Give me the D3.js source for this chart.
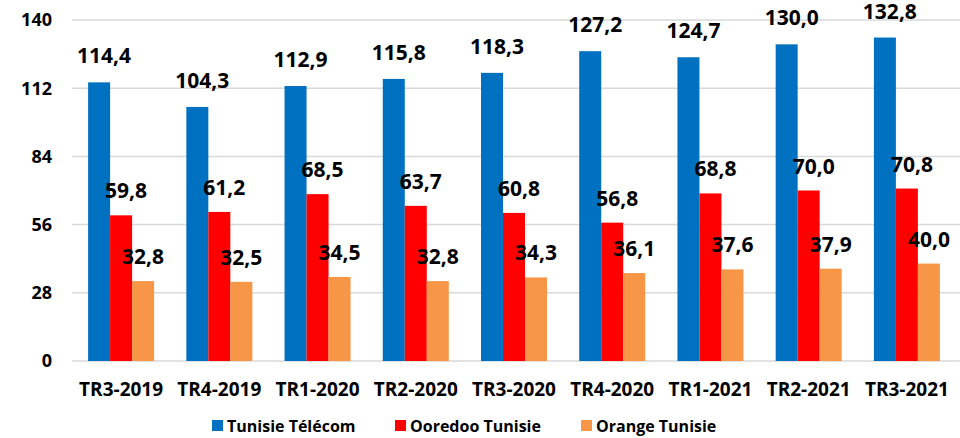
<!DOCTYPE html>
<html><head><meta charset="utf-8">
<script src="https://cdn.jsdelivr.net/npm/d3@7"></script>
<style>body{margin:0;background:#fff}svg{display:block}text{font-family:"Open Sans",sans-serif;font-weight:700;fill:#000}</style>
</head><body><svg id="c" width="960" height="438"></svg>
<script>
const categories = ["TR3-2019","TR4-2019","TR1-2020","TR2-2020","TR3-2020","TR4-2020","TR1-2021","TR2-2021","TR3-2021"];
const seriesNames = ["Tunisie Télécom","Ooredoo Tunisie","Orange Tunisie"];
const tunisieTelecom = [114.4,104.3,112.9,115.8,118.3,127.2,124.7,130.0,132.8];
const ooredoo = [59.8,61.2,68.5,63.7,60.8,56.8,68.8,70.0,70.8];
const orange = [32.8,32.5,34.5,32.8,34.3,36.1,37.6,37.9,40.0];
const yTicks = [0,28,56,84,112,140];
const colors = ["#0070C0","#FF0000","#F79646"];

const series = [tunisieTelecom, ooredoo, orange];
const svg = d3.select("#c");
const x = d3.scaleBand().domain(categories).range([72,956]).paddingInner(0.328).paddingOuter(0.164);
const xs = d3.scaleBand().domain(seriesNames).range([0,x.bandwidth()]);
const y = d3.scaleLinear().domain([0,140]).range([361,20]);

svg.append("g").selectAll("line").data(yTicks).join("line")
  .attr("x1",72).attr("x2",960).attr("y1",d=>y(d)).attr("y2",d=>y(d))
  .attr("stroke","#d9d9d9").attr("stroke-width",1.5);
svg.append("g").selectAll("text").data(yTicks).join("text")
  .attr("x",52).attr("y",d=>y(d)).attr("dy","0.35em").attr("text-anchor","end")
  .style("font-size","18px").text(d=>d);

const fmt = v => d3.format(".1f")(v).replace(".",",");
const dxs = [5,5,0];
series.forEach((vals,si)=>{
  const g = svg.append("g");
  g.selectAll("rect").data(vals).join("rect")
    .attr("x",(d,i)=>x(categories[i])+xs(seriesNames[si]))
    .attr("width",xs.bandwidth())
    .attr("y",d=>y(d)).attr("height",d=>y(0)-y(d))
    .attr("fill",colors[si]);
  g.selectAll("text").data(vals).join("text")
    .attr("x",(d,i)=>x(categories[i])+xs(seriesNames[si])+xs.bandwidth()/2+dxs[si])
    .attr("y",d=>y(d)-(si===0?19:17))
    .attr("text-anchor","middle").style("font-size","21px").text(fmt);
});

svg.append("g").selectAll("text").data(categories).join("text")
  .attr("x",d=>x(d)+x.bandwidth()/2).attr("y",396).attr("text-anchor","middle")
  .style("font-size","19px").text(d=>d);

const legX = [212,395,581];
const leg = svg.append("g");
seriesNames.forEach((n,i)=>{
  leg.append("rect").attr("x",legX[i]).attr("y",420).attr("width",11).attr("height",11).attr("fill",colors[i]);
  leg.append("text").attr("x",legX[i]+15).attr("y",432).style("font-size","16px").text(n);
});
</script></body></html>
